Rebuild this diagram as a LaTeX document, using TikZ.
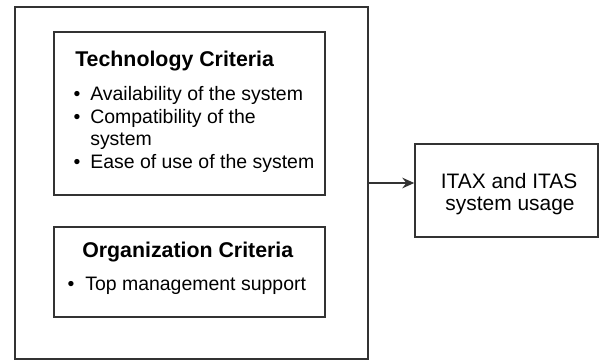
\documentclass[tikz,border=0pt]{standalone}
\usepackage{fontspec}
\setmainfont{Liberation Sans}
\usetikzlibrary{arrows.meta}
\usetikzlibrary{calc}

\begin{document}
\begin{tikzpicture}[x=0.75pt,y=-0.75pt,
    box/.style={draw=black!80,line width=1.1pt,inner sep=0pt},
    head/.style={anchor=base west,inner sep=0pt,font=\fontsize{16}{19}\selectfont\bfseries},
    txt/.style={anchor=base west,inner sep=0pt,font=\fontsize{14.6}{17}\selectfont},
    dot/.style={anchor=base,inner sep=0pt,font=\fontsize{14.6}{17}\selectfont},
    usagetxt/.style={anchor=base,inner sep=0pt,font=\fontsize{15.7}{18}\selectfont}]
  \useasboundingbox (0,0) rectangle (600,360);

  % frames
  \node[box,minimum width=264.75pt,minimum height=264pt] (outer) at (191.5,183) {};
  \node[box,minimum width=203.25pt,minimum height=122.25pt] (tech) at (189.5,113.5) {};
  \node[box,minimum width=203.25pt,minimum height=67.5pt] (org) at (189.5,272) {};
  \node[box,minimum width=137.25pt,minimum height=69.75pt] (usage) at (506.5,190.5) {};

  % technology criteria
  \node[head] (techtitle) at (75,67) {Technology Criteria};
  \node[dot] (d1) at (77,101) {•};
  \node[txt] (t1) at (90,101) {Availability of the system};
  \node[dot] (d2) at (77,123.5) {•};
  \node[txt] (t2) at (90,123.5) {Compatibility of the};
  \node[txt] (t2b) at (90,146) {system};
  \node[dot] (d3) at (77,168.5) {•};
  \node[txt] (t3) at (90,168.5) {Ease of use of the system};

  % organization criteria
  \node[head] (orgtitle) at (82,257) {Organization Criteria};
  \node[dot] (d4) at (71,290) {•};
  \node[txt] (t4) at (85,290) {Top management support};

  % outcome
  \node[usagetxt] (u1) at (509,188) {ITAX and ITAS};
  \node[usagetxt] (u2) at (510,210) {system usage};

  \draw[-{Stealth[length=9pt,width=8pt,inset=3pt]},color=black!80,line width=1.1pt] (outer.east) -- (usage.west |- outer.east);
\end{tikzpicture}
\end{document}
